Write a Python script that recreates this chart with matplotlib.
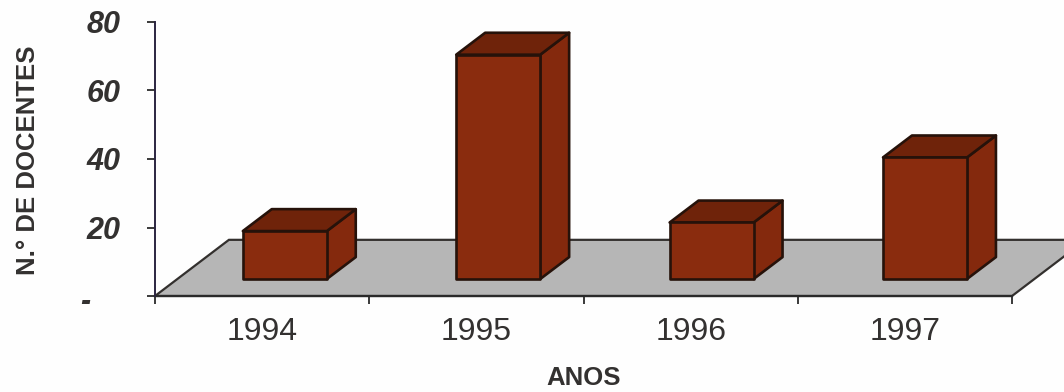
import matplotlib
matplotlib.use("Agg")
import matplotlib.pyplot as plt
from matplotlib.patches import Polygon
from matplotlib.transforms import ScaledTranslation

years = ["1994", "1995", "1996", "1997"]
docentes = [14, 65.5, 16.5, 35.5]
y_ticks = [0, 20, 40, 60, 80]
y_labels = ["-", "20", "40", "60", "80"]
x_title = "ANOS"
y_title = "N.° DE DOCENTES"

plt.rcParams["font.family"] = ["Liberation Sans", "DejaVu Sans"]
W, H = 1064, 392
fig = plt.figure(figsize=(W / 100, H / 100), dpi=100, facecolor="#fefefe")
ax = fig.add_axes([155 / W, 1 - 296 / H, (1012 - 155) / W, (296 - 22) / H])
ax.set_xlim(0, 4)
ax.set_ylim(0, 80)
ax.patch.set_alpha(0)

INK = "#333130"
EDGE = "#26120a"
FRONT, TOP, SIDE = "#8a2c0e", "#6f230a", "#84290d"

# floor
fdx, fdy = 0.345, 16.4
ax.add_patch(Polygon([(0, 0), (4, 0), (4 + fdx, fdy), (fdx, fdy)], closed=True,
                     facecolor="#b6b6b6", edgecolor="#33302e", lw=1.6,
                     clip_on=False, zorder=1))

# bars
bw, bdx, bdy, base, off = 0.392, 0.135, 6.4, 4.96, 0.41
for i, v in enumerate(docentes):
    x0 = i + off - (0.004 * i)
    x1 = x0 + bw
    y0, y1 = base, base + v
    kw = dict(closed=True, edgecolor=EDGE, lw=1.9, clip_on=False, zorder=3 + i, joinstyle="round")
    ax.add_patch(Polygon([(x1, y0), (x1 + bdx, y0 + bdy), (x1 + bdx, y1 + bdy), (x1, y1)], facecolor=SIDE, **kw))
    ax.add_patch(Polygon([(x0, y1), (x1, y1), (x1 + bdx, y1 + bdy), (x0 + bdx, y1 + bdy)], facecolor=TOP, **kw))
    ax.add_patch(Polygon([(x0, y0), (x1, y0), (x1, y1), (x0, y1)], facecolor=FRONT, **kw))

for s in ("top", "right"):
    ax.spines[s].set_visible(False)
ax.spines["left"].set_color("#2b2540")
ax.spines["left"].set_linewidth(1.4)
ax.spines["bottom"].set_color("#2a2a2a")
ax.spines["bottom"].set_linewidth(1.6)
ax.spines["bottom"].set_zorder(2)

ax.set_yticks(y_ticks)
ax.set_yticklabels(y_labels, fontsize=22, fontweight="bold", fontstyle="italic", color=INK)
ax.tick_params(axis="y", length=6, width=1.3, color="#2a2a2a", pad=19)
dash = ax.get_yticklabels()[0]
dash.set_transform(dash.get_transform() + ScaledTranslation(-30 / 100, -3 / 100, fig.dpi_scale_trans))
ax.set_xticks(range(5))
ax.set_xticklabels([])
ax.tick_params(axis="x", which="major", length=6, width=1.3, color="#2a2a2a")
ax.set_xticks([0.5, 1.5, 2.5, 3.5], minor=True)
ax.set_xticklabels(years, minor=True, fontsize=23, color=INK)
ax.tick_params(axis="x", which="minor", length=0, pad=15)

fig.text(584 / W, 1 - 378 / H, x_title, ha="center", va="center", fontsize=18.5, fontweight="bold", color=INK)
fig.text(28 / W, 1 - 160 / H, y_title, ha="center", va="center", rotation=90, fontsize=18.5, fontweight="bold", color=INK)

fig.savefig("out.png", dpi=100, facecolor=fig.get_facecolor())
